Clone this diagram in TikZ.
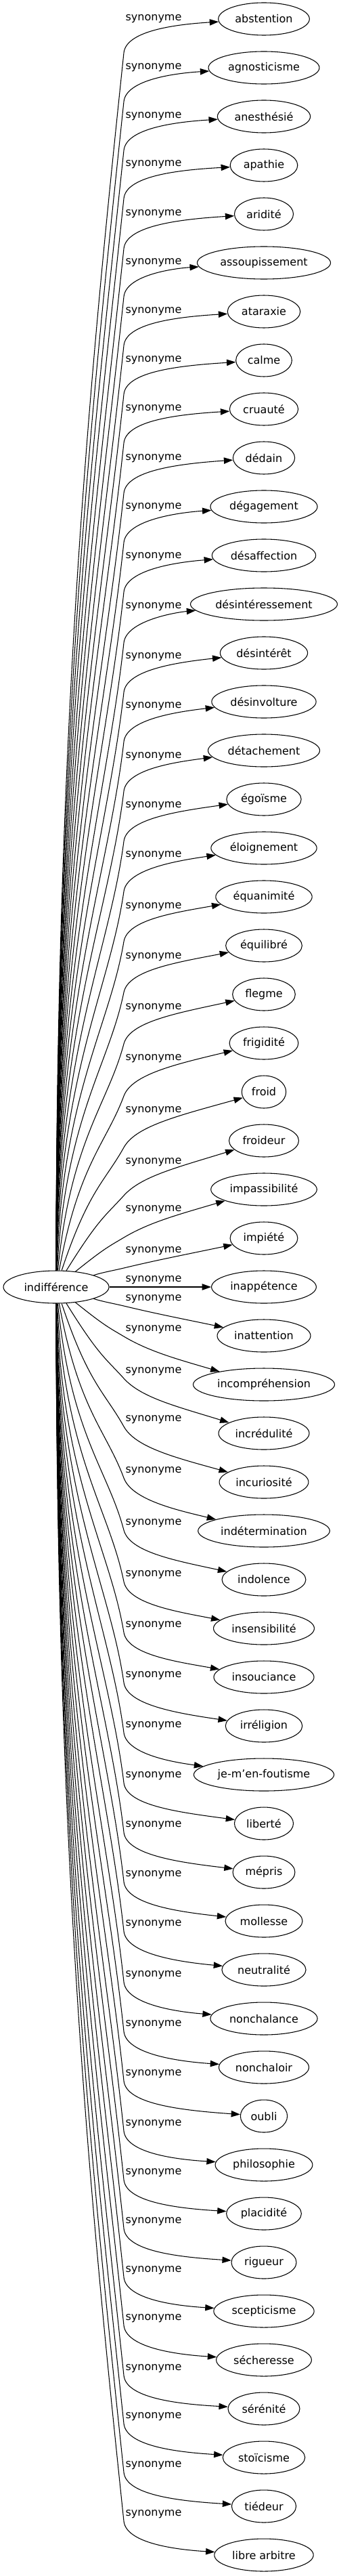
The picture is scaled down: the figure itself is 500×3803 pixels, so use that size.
\documentclass[tikz,border=0pt]{standalone}
\usepackage{fontspec}
\setmainfont{DejaVu Sans}
\usetikzlibrary{arrows.meta,shapes.geometric}
\begin{document}
\begin{tikzpicture}[x=0.75pt,y=-0.75pt,
  tn/.style={draw, ellipse, minimum height=36pt, inner xsep=3.75pt, inner ysep=2pt,
    font=\fontsize{12}{14}\selectfont, line width=0.8pt},
  lab/.style={inner sep=0pt, font=\fontsize{12}{14}\selectfont},
  edgeln/.style={line width=0.8pt, -{Triangle[length=10pt,width=7pt]}}]
\useasboundingbox (0,0) rectangle (500,3803);
\node[tn, minimum width=117pt] (c) at (83,1900) {indifférence};
\node[tn] (m) at (390,1900) {inappétence};
\node[lab] (lm) at (227,1890) {synonyme};
\draw[edgeln] (c) -- (m);
\foreach \kk/\utx/\uly/\dtx/\dly in {
  1/impiété/1847/inattention/1918,
  2/impassibilité/1786/incompréhension/1963,
  3/froideur/1716/incrédulité/2025,
  4/froid/1640/incuriosité/2096,
  5/frigidité/1563/indétermination/2172,
  6/flegme/1488/indolence/2249,
  7/équilibré/1413/insensibilité/2325,
  8/équanimité/1339/insouciance/2400,
  9/éloignement/1263/irréligion/2474,
  10/égoïsme/1190/je-m'en-foutisme/2548,
  11/détachement/1117/liberté/2622,
  12/désinvolture/1043/mépris/2695,
  13/désintérêt/970/mollesse/2768,
  14/désintéressement/896/neutralité/2841,
  15/désaffection/822/nonchalance/2916,
  16/dégagement/749/nonchaloir/2989,
  17/dédain/677/oubli/3062,
  18/cruauté/604/philosophie/3136,
  19/calme/532/placidité/3208,
  20/ataraxie/460/rigueur/3280,
  21/assoupissement/388/scepticisme/3352,
  22/aridité/316/sécheresse/3423,
  23/apathie/243/sérénité/3497,
  24/anesthésié/172/stoïcisme/3568,
  25/agnosticisme/100/tiédeur/3640,
  26/abstention/28/libre arbitre/3712} {
  \pgfmathsetmacro\uu{\dly+10-1900}
  \pgfmathsetmacro\tha{90*(1-exp(-\uu/130))}
  \pgfmathsetmacro\psa{84*(1-exp(-\uu/160))}
  \pgfmathsetmacro\La{0.44*\uu+60}
  \pgfmathsetmacro\Lb{0.23*\uu+10}
  \pgfmathsetmacro\Lc{33+20*exp(-\uu/100)}
  \pgfmathsetmacro\mm{1900-\uly-8}
  \pgfmathsetmacro\ax{83+\La*cos(\tha)}
  \pgfmathsetmacro\ay{\La*sin(\tha)}
  \pgfmathsetmacro\bx{183-\Lb*cos(\psa)}
  \pgfmathsetmacro\by{\uu-\Lb*sin(\psa)}
  \pgfmathsetmacro\cx{183+\Lc*cos(\psa)}
  \pgfmathsetmacro\cy{\uu+\Lc*sin(\psa)}
  \node[tn] (u\kk) at (390,{1900-72*\kk}) {\utx};
  \node[lab] (lu\kk) at (227,\uly) {synonyme};
  \draw[edgeln] (c) .. controls (\ax,{1900-\ay}) and (\bx,{1900-\by}) .. (183,{1900-\uu})
     .. controls (\cx,{1900-\cy}) and (260,{1900-\mm}) .. (u\kk);
  \node[tn] (d\kk) at (390,{1900+72*\kk}) {\dtx};
  \node[lab] (ld\kk) at (227,\dly) {synonyme};
  \draw[edgeln] (c) .. controls (\ax,{1900+\ay}) and (\bx,{1900+\by}) .. (183,{1900+\uu})
     .. controls (\cx,{1900+\cy}) and (260,{1900+\mm}) .. (d\kk);
}
\end{tikzpicture}
\end{document}
